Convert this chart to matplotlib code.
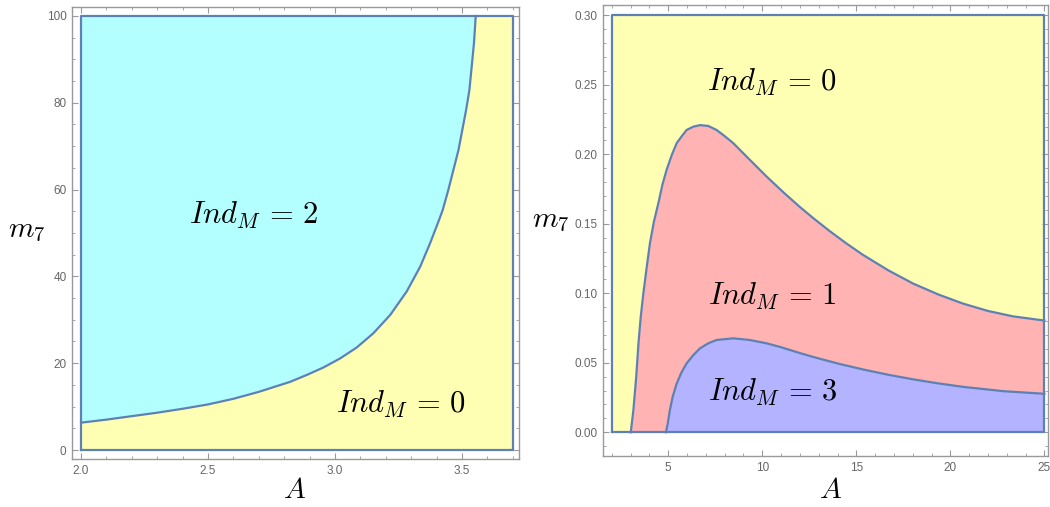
import matplotlib
matplotlib.use("Agg")
import matplotlib.pyplot as plt
from matplotlib.ticker import MultipleLocator, FormatStrFormatter

plt.rcParams['mathtext.fontset'] = 'cm'
plt.rcParams['font.family'] = ['Liberation Sans', 'DejaVu Sans']

# left panel: boundary between Ind_M = 2 (above) and Ind_M = 0 (below)
left_A = [2.0, 2.1, 2.2, 2.3, 2.4, 2.5, 2.6, 2.7, 2.823, 2.889, 2.954, 3.020,
          3.085, 3.151, 3.217, 3.282, 3.335, 3.374, 3.407, 3.424, 3.446,
          3.466, 3.486, 3.501, 3.516, 3.529, 3.538, 3.547, 3.554]
left_m7 = [6.3, 7.0, 7.8, 8.6, 9.5, 10.5, 11.8, 13.4, 15.7, 17.3, 19.0, 21.1,
           23.6, 26.9, 31.1, 36.5, 42.2, 47.6, 52.6, 55.3, 59.9,
           64.5, 69.1, 73.7, 78.3, 82.9, 88.3, 93.7, 100.0]
left_box = (2.0, 3.7, 0.0, 100.0)

# right panel: upper edge of Ind_M = 1 region and upper edge of Ind_M = 3 region
red_A = [3.01, 3.15, 3.30, 3.42, 3.54, 3.68, 3.86, 4.03, 4.24, 4.48, 4.69,
         4.92, 5.19, 5.45, 5.72, 5.98, 6.34, 6.69, 7.13, 7.57, 8.01, 8.46,
         9.34, 10.23, 11.12, 12.0, 12.71, 13.59, 14.48, 15.36, 16.69, 18.02,
         19.35, 20.67, 22.0, 23.33, 25.0]
red_m7 = [0.0, 0.016, 0.040, 0.064, 0.083, 0.100, 0.119, 0.136, 0.1515, 0.165,
          0.178, 0.189, 0.1995, 0.208, 0.213, 0.2175, 0.2199, 0.221, 0.2204,
          0.2175, 0.213, 0.208, 0.196, 0.184, 0.1727, 0.1621, 0.1541, 0.1447,
          0.1358, 0.1276, 0.1166, 0.107, 0.0992, 0.0926, 0.0873, 0.0834, 0.0804]
blue_A = [4.88, 4.98, 5.09, 5.24, 5.45, 5.70, 5.98, 6.34, 6.69, 7.13, 7.57,
          8.46, 9.34, 10.23, 10.95, 12.0, 12.71, 14.04, 15.36, 16.69, 18.02,
          19.35, 20.67, 22.8, 25.0]
blue_m7 = [0.0, 0.0065, 0.016, 0.0256, 0.035, 0.0429, 0.0496, 0.0556, 0.0604,
           0.064, 0.0664, 0.0676, 0.0664, 0.064, 0.0614, 0.0570, 0.0542,
           0.0494, 0.0452, 0.0414, 0.0381, 0.0352, 0.0327, 0.0296, 0.0277]
right_box = (2.0, 25.0, 0.0, 0.30)

yellow = '#FFFFB3'
cyan = '#B3FFFF'
pink = '#FFB3B3'
lilac = '#B3B3FF'
edge = '#5E81B5'
frame_col = '#999999'
tick_col = '#666666'
lw = 1.6

fig = plt.figure(figsize=(10.5, 5.07), dpi=100)
ax1 = fig.add_axes([0.0686, 0.0947, 0.4257, 0.8915])
ax2 = fig.add_axes([0.5743, 0.1006, 0.4238, 0.8895])


def style(ax, xmaj, xmin, ymaj, ymin, xfmt, yfmt):
    for s in ax.spines.values():
        s.set_color(frame_col)
        s.set_linewidth(1.0)
    ax.xaxis.set_major_locator(MultipleLocator(xmaj))
    ax.xaxis.set_minor_locator(MultipleLocator(xmin))
    ax.yaxis.set_major_locator(MultipleLocator(ymaj))
    ax.yaxis.set_minor_locator(MultipleLocator(ymin))
    ax.xaxis.set_major_formatter(FormatStrFormatter(xfmt))
    ax.yaxis.set_major_formatter(FormatStrFormatter(yfmt))
    ax.tick_params(which='both', direction='in', top=True, right=True,
                   color=frame_col, labelcolor=tick_col, labelsize=8.5, pad=4)
    ax.tick_params(which='major', length=4.5, width=0.8)
    ax.tick_params(which='minor', length=2.5, width=0.6)


lab = dict(fontsize=22, ha='center', va='center')

# left panel
x0, x1, y0, y1 = left_box
ax1.fill_between([x0, x1], y0, y1, color=yellow, lw=0)
ax1.fill_between(left_A, left_m7, y1, color=cyan, lw=0)
ax1.plot(left_A, left_m7, color=edge, lw=lw, solid_joinstyle='round')
ax1.plot([x0, x1, x1, x0, x0], [y0, y0, y1, y1, y0], color=edge, lw=lw)
ax1.set_xlim(1.9646, 3.7244)
ax1.set_ylim(-2.07, 102.07)
style(ax1, 0.5, 0.1, 20, 5, '%.1f', '%d')
ax1.text(2.68, 54, r'$Ind_M\,=\,2$', **lab)
ax1.text(3.26, 10.5, r'$Ind_M\,=\,0$', **lab)

# right panel
x0, x1, y0, y1 = right_box
ax2.fill_between([x0, x1], y0, y1, color=yellow, lw=0)
ax2.fill_between(red_A, 0, red_m7, color=pink, lw=0)
ax2.fill_between(blue_A, 0, blue_m7, color=lilac, lw=0)
ax2.plot(red_A, red_m7, color=edge, lw=lw, solid_joinstyle='round')
ax2.plot(blue_A, blue_m7, color=edge, lw=lw, solid_joinstyle='round')
ax2.plot([x0, x1, x1, x0, x0], [y0, y0, y1, y1, y0], color=edge, lw=lw)
ax2.set_xlim(1.535, 25.19)
ax2.set_ylim(-0.01705, 0.3074)
style(ax2, 5, 1, 0.05, 0.01, '%d', '%.2f')
ax2.text(10.54, 0.2515, r'$Ind_M\,=\,0$', **lab)
ax2.text(10.54, 0.098, r'$Ind_M\,=\,1$', **lab)
ax2.text(10.54, 0.029, r'$Ind_M\,=\,3$', **lab)

# axis titles
fig.text(295 / 1050, 1 - 490 / 507, r'$A$', fontsize=21, ha='center', va='center')
fig.text(27 / 1050, 1 - 230 / 507, r'$m_7$', fontsize=21, ha='center', va='center')
fig.text(831 / 1050, 1 - 490 / 507, r'$A$', fontsize=21, ha='center', va='center')
fig.text(551 / 1050, 1 - 220 / 507, r'$m_7$', fontsize=21, ha='center', va='center')

fig.savefig('out.png', dpi=100)
